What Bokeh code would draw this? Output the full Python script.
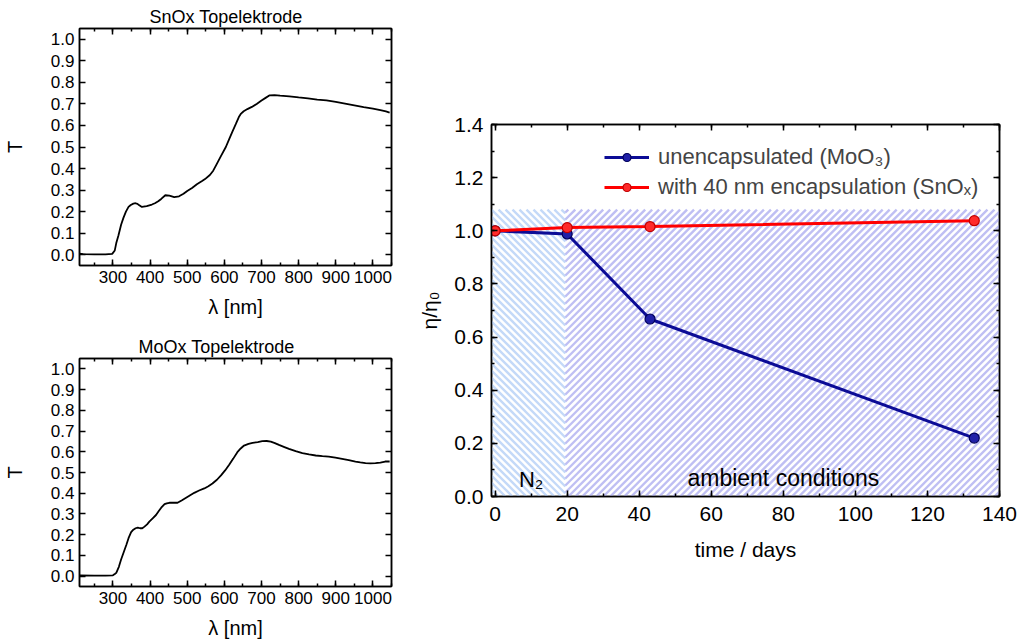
from bokeh.plotting import figure
from bokeh.layouts import row, column
from bokeh.models import (Range1d, LinearAxis, SingleIntervalTicker, NumeralTickFormatter,
                          Legend, LegendItem, Label, CustomJSTickFormatter)
from bokeh.embed import file_html
from bokeh.resources import INLINE

FONT = "Liberation Sans"

# ---------------- data ----------------
snox_wl = [210, 220, 250, 280, 298, 305, 309, 315, 322, 328,
           335, 342, 348, 355, 361, 366, 370, 378, 391, 405,
           413, 422, 430, 441, 452, 465, 478, 490, 500, 513,
           526, 540, 548, 561, 570, 578, 590, 604, 613, 622,
           631, 639, 645, 652, 662, 674, 687, 700, 711, 722,
           735, 750, 775, 800, 825, 850, 875, 900, 925, 950,
           975, 1000, 1020, 1035, 1045]
snox_T = [0.005, 0.003, 0.002, 0.002, 0.004, 0.02, 0.054, 0.09, 0.139, 0.17,
          0.2, 0.222, 0.231, 0.237, 0.239, 0.236, 0.231, 0.222, 0.226, 0.233,
          0.239, 0.248, 0.259, 0.276, 0.274, 0.267, 0.271, 0.283, 0.296, 0.31,
          0.327, 0.342, 0.351, 0.37, 0.39, 0.416, 0.455, 0.5, 0.537, 0.573,
          0.607, 0.639, 0.655, 0.666, 0.676, 0.686, 0.7, 0.716, 0.728, 0.74,
          0.741, 0.738, 0.735, 0.73, 0.726, 0.72, 0.716, 0.709, 0.701, 0.693,
          0.685, 0.678, 0.671, 0.665, 0.66]

moox_wl = [210, 250, 280, 300, 305, 309, 316, 322, 329, 336,
           342, 349, 355, 361, 367, 373, 379, 385, 392, 398,
           407, 416, 423, 430, 439, 445, 452, 463, 474, 486,
           497, 508, 519, 532, 546, 557, 568, 580, 591, 602,
           613, 624, 635, 644, 653, 665, 676, 690, 702, 714,
           725, 736, 747, 760, 774, 792, 810, 828, 846, 864,
           881, 899, 917, 935, 953, 966, 980, 993, 1007, 1020,
           1033, 1045]
moox_T = [0.003, 0.002, 0.002, 0.004, 0.01, 0.016, 0.045, 0.08, 0.115, 0.15,
          0.183, 0.212, 0.224, 0.231, 0.234, 0.231, 0.231, 0.239, 0.25, 0.263,
          0.279, 0.295, 0.313, 0.33, 0.347, 0.351, 0.354, 0.354, 0.354, 0.366,
          0.378, 0.39, 0.402, 0.413, 0.423, 0.434, 0.447, 0.465, 0.486, 0.51,
          0.537, 0.567, 0.598, 0.616, 0.63, 0.638, 0.643, 0.647, 0.651, 0.652,
          0.649, 0.642, 0.633, 0.624, 0.614, 0.603, 0.593, 0.587, 0.582, 0.579,
          0.577, 0.572, 0.566, 0.56, 0.553, 0.549, 0.545, 0.544, 0.545, 0.548,
          0.553, 0.553]

days = [0, 20, 43, 133]
eta_unencap = [1.0, 0.988, 0.668, 0.22]
eta_encap = [1.0, 1.012, 1.016, 1.038]
series_labels = ["unencapsulated (MoO\u2083)", "with 40 nm encapsulation (SnO\u2093)"]

region_names = ["N\u2082", "ambient conditions"]
region_left = [-1, 19.5]
region_right = [19.5, 140]
region_top = [1.08, 1.08]
region_label_x = [10, 80]
region_label_y = [0.065, 0.07]
region_colors = ["#c4d9f8", "#bfbff3"]
region_dirs = ["back", "fwd"]

EMPTY = CustomJSTickFormatter(code="return ''")

# right figure geometry
P3_W, P3_H = 604, 641
P3_BL, P3_BR, P3_BT, P3_BB = 75, 20, 124, 145
X0, X1 = -1, 140.001
Y0, Y1 = 0, 1.4001
STRIPE_PERIOD = 7.0


def stripe_segments(left, right, bottom, top, direction):
    """45-degree (on screen) hatch segments clipped to a data rectangle."""
    sx = (P3_W - P3_BL - P3_BR) / (X1 - X0)
    sy = (P3_H - P3_BT - P3_BB) / (Y1 - Y0)
    L, R = (left - X0) * sx, (right - X0) * sx
    B, T = (bottom - Y0) * sy, (top - Y0) * sy
    xs, ys = [], []
    if direction == "fwd":
        k0, k1 = int((L - T) // STRIPE_PERIOD) - 1, int((R - B) // STRIPE_PERIOD) + 1
        for k in range(k0, k1 + 1):
            c = k * STRIPE_PERIOD
            a, b = max(L, B + c), min(R, T + c)
            if b > a:
                xs.append([a / sx + X0, b / sx + X0])
                ys.append([(a - c) / sy + Y0, (b - c) / sy + Y0])
    else:
        k0, k1 = int((L + B) // STRIPE_PERIOD) - 1, int((R + T) // STRIPE_PERIOD) + 1
        for k in range(k0, k1 + 1):
            c = k * STRIPE_PERIOD
            a, b = max(L, c - T), min(R, c - B)
            if b > a:
                xs.append([a / sx + X0, b / sx + X0])
                ys.append([(c - a) / sy + Y0, (c - b) / sy + Y0])
    return xs, ys


def style_axis(ax, tick_size, label_size, show_labels=True):
    ax.axis_line_width = 1.5
    ax.axis_line_color = "black"
    ax.major_tick_in = 6
    ax.major_tick_out = 0
    ax.minor_tick_in = 3
    ax.minor_tick_out = 0
    ax.major_tick_line_width = 1.5
    ax.minor_tick_line_width = 1.5
    ax.major_label_text_font = FONT
    ax.major_label_text_color = "black"
    ax.axis_label_text_font = FONT
    ax.axis_label_text_font_style = "normal"
    ax.axis_label_text_color = "black"
    ax.axis_label_text_font_size = label_size
    ax.major_label_text_font_size = tick_size
    if not show_labels:
        ax.formatter = EMPTY
        ax.major_label_standoff = 0


def spectrum_fig(title, wl, T, width, height, bl, br, bt, bb, title_offset):
    xt = SingleIntervalTicker(interval=100, num_minor_ticks=2)
    yt = SingleIntervalTicker(interval=0.1, num_minor_ticks=0)
    p = figure(width=width, height=height, output_backend="svg", toolbar_location=None,
               x_range=Range1d(210, 1050), y_range=Range1d(-0.05, 1.05),
               min_border_left=bl, min_border_right=br, min_border_top=bt, min_border_bottom=bb)
    p.xaxis.ticker = xt
    p.yaxis.ticker = yt
    p.yaxis.formatter = NumeralTickFormatter(format="0.0")
    p.xaxis.axis_label = "\u03bb [nm]"
    p.yaxis.axis_label = "T"
    for ax in p.xaxis:
        style_axis(ax, "17px", "20px")
        ax.axis_label_standoff = 10
        ax.major_label_standoff = 5
    for ax in p.yaxis:
        style_axis(ax, "17px", "20px")
        ax.axis_label_standoff = 22
        ax.major_label_standoff = 5
    top = LinearAxis(ticker=xt)
    style_axis(top, "1px", "1px", False)
    p.add_layout(top, "above")
    right = LinearAxis(ticker=yt)
    style_axis(right, "1px", "1px", False)
    p.add_layout(right, "right")
    p.xgrid.visible = False
    p.ygrid.visible = False
    p.outline_line_color = "black"
    p.outline_line_width = 1.5
    p.title.text = title
    p.title.align = "left"
    p.title.offset = title_offset
    p.title.text_font = FONT
    p.title.text_font_style = "normal"
    p.title.text_font_size = "18px"
    p.title.text_color = "black"
    p.title.standoff = 3
    p.line(wl, T, line_color="black", line_width=1.8)
    return p


p1 = spectrum_fig("SnOx Topelektrode", snox_wl, snox_T, 415, 320, 77, 16, 28, 54, 70)
p2 = spectrum_fig("MoOx Topelektrode", moox_wl, moox_T, 415, 321, 78, 24, 38, 54, 59)

# ---------------- right figure ----------------
xt3 = SingleIntervalTicker(interval=20, num_minor_ticks=2)
yt3 = SingleIntervalTicker(interval=0.2, num_minor_ticks=2)
p3 = figure(width=P3_W, height=P3_H, output_backend="svg", toolbar_location=None,
            x_range=Range1d(X0, X1), y_range=Range1d(Y0, Y1),
            min_border_left=P3_BL, min_border_right=P3_BR,
            min_border_top=P3_BT, min_border_bottom=P3_BB)
p3.xaxis.ticker = xt3
p3.yaxis.ticker = yt3
p3.yaxis.formatter = NumeralTickFormatter(format="0.0")
p3.xaxis.axis_label = "time / days"
p3.yaxis.axis_label = "\u03b7/\u03b7\u2080"
for ax in p3.xaxis:
    style_axis(ax, "21px", "21px")
    ax.major_label_standoff = 10
    ax.axis_label_standoff = 14
for ax in p3.yaxis:
    style_axis(ax, "21px", "21px")
    ax.major_label_standoff = 8
    ax.axis_label_standoff = 10
top3 = LinearAxis(ticker=xt3)
style_axis(top3, "1px", "1px", False)
p3.add_layout(top3, "above")
right3 = LinearAxis(ticker=yt3)
style_axis(right3, "1px", "1px", False)
p3.add_layout(right3, "right")
p3.xgrid.visible = False
p3.ygrid.visible = False
p3.outline_line_color = "black"
p3.outline_line_width = 1.5

for i in range(len(region_names)):
    sxs, sys_ = stripe_segments(region_left[i], region_right[i], 0, region_top[i], region_dirs[i])
    p3.multi_line(sxs, sys_, line_color=region_colors[i], line_width=2.4)
    p3.add_layout(Label(x=region_label_x[i], y=region_label_y[i], text=region_names[i],
                        text_font=FONT, text_font_size="22px" if i == 0 else "23px",
                        text_align="center", text_baseline="middle", text_color="black"))

l_blue = p3.line(days, eta_unencap, line_color="#0c0c96", line_width=3)
s_blue = p3.scatter(days, eta_unencap, size=10, fill_color="#2020a8", line_color="#00005a", line_width=1.2)
l_red = p3.line(days, eta_encap, line_color="#ff0000", line_width=3)
s_red = p3.scatter(days, eta_encap, size=10, fill_color="#ff2a2a", line_color="#c00000", line_width=1.2)

legend = Legend(items=[LegendItem(label=series_labels[0], renderers=[l_blue, s_blue]),
                       LegendItem(label=series_labels[1], renderers=[l_red, s_red])],
                location=(113, 296), margin=0, padding=0, spacing=4,
                glyph_width=45, glyph_height=20, label_height=20, label_standoff=9,
                label_text_font=FONT, label_text_font_size="22px",
                background_fill_alpha=0, border_line_alpha=0)
p3.add_layout(legend)

layout = row(column(p1, p2), p3)
open("out.html", "w").write(file_html(layout, INLINE))
